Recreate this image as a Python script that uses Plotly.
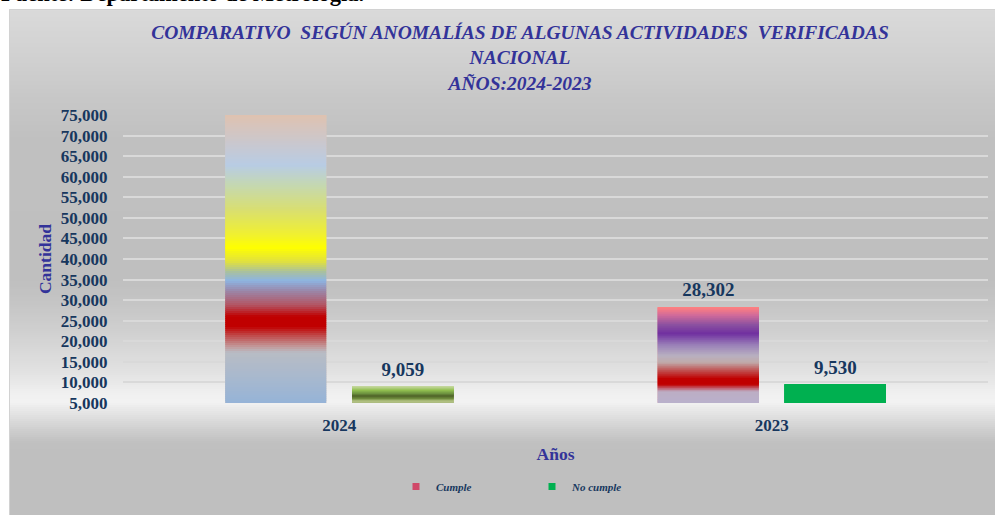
import plotly.graph_objects as go

# ---------------- data ----------------
years = ["2024", "2023"]
series_names = ["Cumple", "No cumple"]
cumple = [80000, 28302]      # 2024 bar runs past the top of the axis (label hidden in source)
no_cumple = [9059, 9530]
y_tick_values = [5000, 10000, 15000, 20000, 25000, 30000, 35000, 40000,
                 45000, 50000, 55000, 60000, 65000, 70000, 75000]
y_tick_labels = ["5,000", "10,000", "15,000", "20,000", "25,000", "30,000", "35,000", "40,000",
                 "45,000", "50,000", "55,000", "60,000", "65,000", "70,000", "75,000"]
title_lines = ["COMPARATIVO\u00a0 SEGÚN ANOMALÍAS DE ALGUNAS ACTIVIDADES\u00a0 VERIFICADAS",
               "NACIONAL", "AÑOS:2024-2023"]
source_text = "Fuente: Departamento de Metrología."
x_title = "Años"
y_title = "Cantidad"

# ---------------- styles ----------------
W, H = 995, 515
ML, MR, MT, MB = 123, 7, 115, 112
PW, PH = W - ML - MR, H - MT - MB
Y_MIN, Y_MAX = 5000, 75000
SERIF = "Liberation Serif"
NAVY = "#17375E"
PURPLE = "#333399"
BARGAP = 0.4127

grad = {
    ("Cumple", "2024"): [(0.0, '#95b3d7'), (0.08, '#a6b8cf'), (0.175, '#b8bcc4'), (0.195, '#c29a9c'),
                         (0.235, '#c04848'), (0.265, '#c00000'), (0.30, '#c00000'), (0.34, '#b35563'),
                         (0.39, '#9a88aa'), (0.425, '#8db4e2'), (0.455, '#a8c0a0'), (0.49, '#e0e040'),
                         (0.54, '#ffff00'), (0.585, '#f0f030'), (0.67, '#d9df70'), (0.755, '#c5d8b0'),
                         (0.825, '#b8cce4'), (0.895, '#c8c8d0'), (1.0, '#dfc2b0')],
    ("Cumple", "2023"): [(0.0, '#b9b0cc'), (0.125, '#bcaec4'), (0.16, '#c06070'), (0.2, '#c00000'),
                         (0.26, '#c00000'), (0.345, '#c05050'), (0.43, '#c0aaaa'), (0.5, '#b8b0c0'),
                         (0.61, '#9a80b8'), (0.73, '#7030a0'), (0.82, '#8a50a0'), (0.92, '#d06a9a'),
                         (1.0, '#ff8080')],
    ("No cumple", "2024"): [(0.0, '#a9b97f'), (0.15, '#b0c080'), (0.3, '#6d8a3c'), (0.45, '#4f6228'),
                            (0.6, '#6e9440'), (0.8, '#92c050'), (1.0, '#c3d69b')],
    ("No cumple", "2023"): [(0.0, '#00b050'), (1.0, '#00b050')],
}
legend_color = {"Cumple": "#d04868", "No cumple": "#00b050"}

bg_stops = [(9, 218), (60, 208), (100, 199), (140, 192), (280, 191), (300, 196), (330, 207),
            (350, 216), (370, 225), (385, 234), (395, 241), (402, 242), (410, 232), (420, 219),
            (432, 204), (442, 193), (450, 191), (520, 191)]


def hex2rgb(h):
    h = h.lstrip('#')
    return tuple(int(h[i:i + 2], 16) for i in (0, 2, 4))


def interp_color(stops, f):
    for (f0, c0), (f1, c1) in zip(stops[:-1], stops[1:]):
        if f0 <= f <= f1:
            t = 0 if f1 == f0 else (f - f0) / (f1 - f0)
            a, b = hex2rgb(c0), hex2rgb(c1)
            return "rgb(%d,%d,%d)" % tuple(round(a[i] + (b[i] - a[i]) * t) for i in range(3))
    return stops[-1][1]


def interp_grey(y):
    for (y0, g0), (y1, g1) in zip(bg_stops[:-1], bg_stops[1:]):
        if y0 <= y <= y1:
            t = (y - y0) / (y1 - y0)
            g = round(g0 + (g1 - g0) * t)
            return "rgb(%d,%d,%d)" % (g, g, g)
    return "rgb(191,191,191)"


def px_x(p):
    return (p - ML) / PW


def px_y(p):
    return (MT + PH - p) / PH


fig = go.Figure()

# background gradient of the chart area
shapes = []
y = 9
while y < H:
    shapes.append(dict(type="rect", xref="paper", yref="paper", layer="below",
                       x0=px_x(9), x1=px_x(W + 5), y0=px_y(y), y1=px_y(y + 3),
                       fillcolor=interp_grey(y + 1), line=dict(width=0)))
    y += 2
shapes.append(dict(type="rect", xref="paper", yref="paper", layer="below",
                   x0=px_x(9.5), x1=px_x(W + 5), y0=px_y(9.5), y1=px_y(H + 5),
                   fillcolor="rgba(0,0,0,0)", line=dict(width=1, color="#d2d2d2")))

N_SEG = 144
series_values = {"Cumple": cumple, "No cumple": no_cumple}
for name in series_names:
    vals = series_values[name]
    # real bar carrying the data
    fig.add_trace(go.Bar(
        x=years, y=vals, name=name, offsetgroup=name, showlegend=False,
        marker=dict(color=[interp_color(grad[(name, yr)], 1.0) for yr in years], line=dict(width=0)),
        cliponaxis=True, hoverinfo="skip",
    ))
    # gradient slices computed from each bar's value
    tops = [min(v, Y_MAX) for v in vals]
    heights = [(t - Y_MIN) / N_SEG for t in tops]
    for k in range(N_SEG):
        f = (k + 0.5) / N_SEG
        last = k == N_SEG - 1
        fig.add_trace(go.Bar(
            x=years,
            y=[h * (1.0 if last else 1.7) for h in heights],
            base=[Y_MIN + k * h for h in heights],
            offsetgroup=name, showlegend=False, hoverinfo="skip",
            marker=dict(color=[interp_color(grad[(name, yr)], f) for yr in years], line=dict(width=0)),
        ))

# data labels (invisible marker sets the gap between bar top and label)
for name in series_names:
    vals = series_values[name]
    fig.add_trace(go.Scatter(
        x=years, y=vals, mode="markers+text", offsetgroup=name, showlegend=False,
        text=[f"{v:,}" for v in vals], textposition="top center", cliponaxis=True,
        marker=dict(size=8, opacity=0),
        textfont=dict(family=SERIF, size=19, color=NAVY, weight="bold"),
        hoverinfo="skip",
    ))

# legend entries
for name in series_names:
    fig.add_trace(go.Scatter(
        x=[None], y=[None], mode="markers", name=name, offsetgroup=name,
        marker=dict(symbol="square", size=7, color=legend_color[name]),
    ))

fig.update_layout(
    width=W, height=H,
    margin=dict(l=ML, r=MR, t=MT, b=MB),
    paper_bgcolor="white", plot_bgcolor="rgba(0,0,0,0)",
    barmode="group", bargap=BARGAP, bargroupgap=0.2047,
    scattermode="group", scattergap=BARGAP,
    shapes=shapes,
    title=dict(text="<br>".join(title_lines), x=520 / W, xanchor="center", xref="container",
               y=1 - 39 / H, yanchor="top", yref="container",
               font=dict(family=SERIF, size=19.5, color=PURPLE, weight="bold", style="italic")),
    showlegend=True,
    legend=dict(orientation="h", x=px_x(396), xanchor="left", y=px_y(472), yanchor="top",
                bgcolor="rgba(0,0,0,0)", entrywidth=91, entrywidthmode="pixels",
                font=dict(family=SERIF, size=11, color=NAVY, weight="bold", style="italic"),
                itemwidth=30, traceorder="normal"),
    annotations=[dict(text=source_text, xref="paper", yref="paper", x=px_x(-1), xanchor="left",
                      y=px_y(8), yanchor="bottom", showarrow=False,
                      font=dict(family=SERIF, size=22.5, color="black", weight="bold"))],
)

fig.update_xaxes(
    type="category", categoryorder="array", categoryarray=years,
    showgrid=False, showline=False, zeroline=False, automargin=False,
    ticks="outside", ticklen=7, tickcolor="rgba(0,0,0,0)",
    tickfont=dict(family=SERIF, size=17, color=NAVY, weight="bold"),
    title=dict(text=x_title, standoff=13,
               font=dict(family=SERIF, size=17.5, color=PURPLE, weight="bold")),
)
fig.update_yaxes(
    range=[Y_MIN, Y_MAX], tickvals=y_tick_values, ticktext=y_tick_labels,
    showgrid=True, gridcolor="#d9d9d9", gridwidth=1.5,
    showline=False, zeroline=False, automargin=False,
    ticks="outside", ticklen=11, tickcolor="rgba(0,0,0,0)",
    tickfont=dict(family=SERIF, size=17, color=NAVY, weight="bold"),
    title=dict(text=y_title, standoff=4,
               font=dict(family=SERIF, size=17.5, color=PURPLE, weight="bold")),
)

fig.write_html("out.html", config={"displayModeBar": False},
               post_script="document.body.style.margin='0px';")
